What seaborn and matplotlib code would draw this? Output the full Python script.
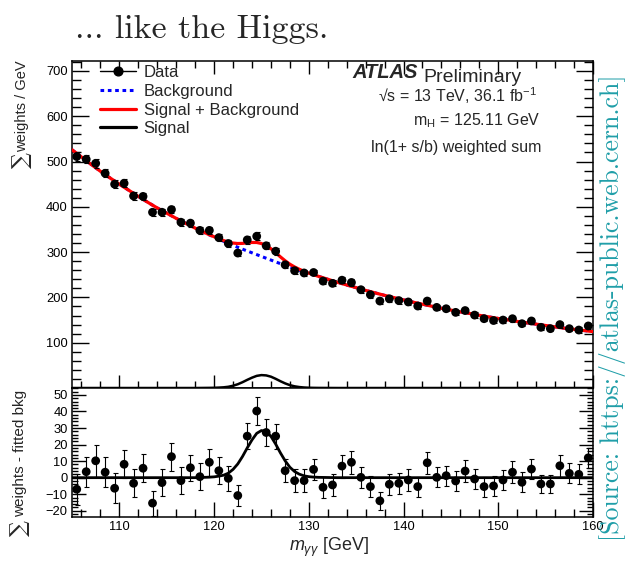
import numpy as np
import pandas as pd
import matplotlib
matplotlib.use("Agg")
import matplotlib.pyplot as plt
import seaborn as sns
from matplotlib.lines import Line2D
from matplotlib.ticker import MultipleLocator, FixedLocator

# ---------------------------------------------------------------- data
# 1 GeV bins from 105 to 160 GeV (bin centres)
mass = np.arange(105.5, 160.0, 1.0)

weighted_sum = [
    511, 505, 496, 474, 450, 452, 424, 423, 388, 388,
    394, 366, 364, 348, 348, 332, 319, 298, 327, 335,
    314, 302, 272, 259, 254, 255, 236, 231, 238, 233,
    217, 206, 192, 197, 193, 190, 181, 192, 178, 175,
    167, 171, 161, 153, 149, 150, 153, 142, 148, 134,
    131, 140, 131, 128, 137,
]

sum_err = [
    9.5, 9.0, 9.5, 9.0, 9.0, 8.5, 8.5, 8.5, 7.5, 8.0,
    8.5, 8.0, 8.0, 8.0, 8.0, 8.0, 7.5, 6.5, 8.0, 8.5,
    8.0, 7.5, 7.0, 7.0, 7.0, 6.5, 6.5, 6.5, 7.0, 7.0,
    6.5, 6.5, 5.5, 6.5, 6.5, 6.5, 6.0, 6.5, 6.0, 6.0,
    6.0, 6.5, 6.0, 6.0, 6.0, 6.0, 6.5, 6.0, 6.0, 5.5,
    5.5, 6.5, 6.0, 6.0, 6.0,
]

residual = [
    -7.0, 3.6, 10.2, 3.3, -6.4, 8.1, -3.4, 5.7, -15.4, -3.0,
    12.7, -1.8, 6.0, 0.6, 9.3, 4.2, -0.4, -10.8, 25.1, 40.3,
    27.3, 25.1, 4.2, -1.8, -1.8, 5.0, -5.8, -4.4, 7.0, 9.3,
    0.2, -5.4, -14.0, -4.0, -3.4, -1.4, -5.4, 9.0, 0.2, 1.2,
    -2.0, 4.0, -0.8, -5.4, -5.0, -1.4, 3.3, -2.8, 5.2, -3.8,
    -3.8, 7.2, 2.6, 2.0, 12.0,
]

# fitted curves (finer sampling around the peak)
fit_mass = [
    105, 106, 107, 108, 109, 110, 111, 112, 113, 114, 115, 116, 117, 118, 119,
    119.5, 120, 120.5, 121, 121.5, 122, 122.5, 123, 123.5, 124, 124.5, 125,
    125.5, 126, 126.5, 127, 127.5, 128, 128.5, 129, 129.5, 130, 130.5, 131,
    132, 133, 134, 135, 136, 137, 138, 139, 140, 141, 142, 143, 144, 145, 146,
    147, 148, 149, 150, 151, 152, 153, 154, 155, 156, 157, 158, 159, 160,
]

fit_bkg = [
    526, 510, 494, 478.5, 464, 450, 436.5, 423, 410, 397.5, 386, 374.5, 363.5, 353, 343,
    338, 333.5, 328.7, 324, 319.5, 315, 310.7, 306.5, 302.5, 298.5, 294.5, 290.5,
    286.5, 282.5, 278.5, 274.5, 270.7, 267, 263.5, 260, 256.5, 253, 249.7, 246.5,
    240, 233.5, 227.5, 221.5, 215.5, 210, 204.5, 199.5, 194.5, 189.5, 185, 180.5, 176, 172, 168,
    164.5, 160.5, 157, 153.5, 150.5, 147, 144, 141, 138, 135, 132, 129.5, 127, 124.5,
]

fit_sig = [
    0, 0, 0, 0, 0, 0, 0, 0, 0, 0, 0, 0, 0, 0, 0.2,
    0.3, 0.5, 0.9, 1.5, 2.7, 5.0, 8.3, 12.8, 18.0, 22.8, 26.8, 28.5,
    27.8, 25.0, 20.3, 15.0, 10.2, 6.3, 3.7, 2.1, 1.1, 0.6, 0.35, 0.2,
    0.1, 0, 0, 0, 0, 0, 0, 0, 0, 0, 0, 0, 0, 0, 0,
    0, 0, 0, 0, 0, 0, 0, 0, 0, 0, 0, 0, 0, 0,
]

x_ticks = [110, 120, 130, 140, 150, 160]
top_y_ticks = [100, 200, 300, 400, 500, 600, 700]
bot_y_ticks = [-20, -10, 0, 10, 20, 30, 40, 50]

points = pd.DataFrame({"mass": mass, "sum": weighted_sum, "err": sum_err, "res": residual})
curves = pd.DataFrame({"mass": fit_mass, "bkg": fit_bkg, "sig": fit_sig})
curves["sb"] = curves["bkg"] + curves["sig"]

# ---------------------------------------------------------------- style
sns.set_theme(style="ticks")
plt.rcParams["font.family"] = ["Liberation Sans", "DejaVu Sans"]
plt.rcParams["mathtext.fontset"] = "custom"
plt.rcParams["mathtext.rm"] = "Liberation Sans"
plt.rcParams["mathtext.it"] = "Liberation Sans:italic"
plt.rcParams["mathtext.bf"] = "Liberation Sans:bold"
plt.rcParams["axes.linewidth"] = 1.1
plt.rcParams["axes.edgecolor"] = "black"

BLUE = "#0000ff"
RED = "#ff0000"
dotted = (0, (1.2, 1.2))

fig = plt.figure(figsize=(6.25, 5.62), dpi=100)
ax_top = fig.add_axes([0.1152, 0.3096, 0.8336, 0.5819])
ax_bot = fig.add_axes([0.1152, 0.0800, 0.8336, 0.2296])

# ---------------------------------------------------------------- upper panel
sns.lineplot(data=curves, x="mass", y="bkg", ax=ax_top, color=BLUE, lw=2.2,
             linestyle=dotted, zorder=2)
sns.lineplot(data=curves, x="mass", y="sb", ax=ax_top, color=RED, lw=2.3, zorder=3)
sns.lineplot(data=curves, x="mass", y="sig", ax=ax_top, color="black", lw=1.8, zorder=3)
ax_top.errorbar(points["mass"], points["sum"], yerr=points["err"], fmt="none",
                ecolor="black", elinewidth=0.8, capsize=1.8, capthick=0.8, zorder=4)
sns.scatterplot(data=points, x="mass", y="sum", ax=ax_top, color="black", s=40,
                edgecolor="none", zorder=5)

ax_top.set_xlim(105, 160)
ax_top.set_ylim(0, 722)
ax_top.set_xlabel("")
ax_top.set_ylabel("")
ax_top.yaxis.set_major_locator(FixedLocator(top_y_ticks))
ax_top.yaxis.set_minor_locator(MultipleLocator(20))
ax_top.xaxis.set_major_locator(FixedLocator(x_ticks))
ax_top.xaxis.set_minor_locator(MultipleLocator(2))
ax_top.tick_params(which="both", direction="in", top=True, right=True,
                   labelbottom=False, colors="black", labelsize=9.3, width=1.0)
ax_top.tick_params(axis="y", which="major", length=12, pad=3)
ax_top.tick_params(axis="y", which="minor", length=6.5)
ax_top.tick_params(axis="x", which="major", length=9.5)
ax_top.tick_params(axis="x", which="minor", length=5)

handles = [
    Line2D([], [], color="black", marker="o", markersize=6.3, lw=1.0),
    Line2D([], [], color=BLUE, lw=2.2, linestyle=dotted),
    Line2D([], [], color=RED, lw=2.3),
    Line2D([], [], color="black", lw=2.3),
]
labels = ["Data", "Background", "Signal + Background", "Signal"]
ax_top.legend(handles, labels, loc="upper left", bbox_to_anchor=(0.053, 0.987),
              frameon=False, fontsize=12, handlelength=2.2, handletextpad=0.45,
              labelspacing=0.22, borderpad=0, borderaxespad=0)

atlas = ax_top.text(0.5374, 0.947, "ATLAS", transform=ax_top.transAxes,
                    fontsize=14.5, fontweight="bold", fontstyle="italic",
                    ha="left", va="baseline")
ax_top.annotate("Preliminary", xy=(1, 0), xycoords=atlas, xytext=(4, 0),
                textcoords="offset points", fontsize=14, ha="left", va="baseline")
ax_top.text(0.8925, 0.8755, "√s = 13 TeV, 36.1 fb$^{\\mathregular{-1}}$",
            transform=ax_top.transAxes, fontsize=11.5, ha="right", va="baseline")
ax_top.text(0.9002, 0.804, "m$_{\\mathregular{H}}$ = 125.11 GeV",
            transform=ax_top.transAxes, fontsize=11.5, ha="right", va="baseline")
ax_top.text(0.9002, 0.7226, "ln(1+ s/b) weighted sum",
            transform=ax_top.transAxes, fontsize=11.5, ha="right", va="baseline")

# ---------------------------------------------------------------- lower panel
ax_bot.errorbar(points["mass"], points["res"], yerr=points["err"], fmt="none",
                ecolor="black", elinewidth=0.8, capsize=1.8, capthick=0.8, zorder=4)
sns.lineplot(data=curves, x="mass", y="sig", ax=ax_bot, color="black", lw=2.0, zorder=3)
sns.scatterplot(data=points, x="mass", y="res", ax=ax_bot, color="black", s=40,
                edgecolor="none", zorder=5)

ax_bot.set_xlim(105, 160)
ax_bot.set_ylim(-23.8, 54.2)
ax_bot.set_xlabel("")
ax_bot.set_ylabel("")
ax_bot.xaxis.set_major_locator(FixedLocator(x_ticks))
ax_bot.xaxis.set_minor_locator(MultipleLocator(2))
ax_bot.yaxis.set_major_locator(FixedLocator(bot_y_ticks))
ax_bot.yaxis.set_minor_locator(MultipleLocator(2))
ax_bot.tick_params(which="both", direction="in", right=True, top=False,
                   colors="black", labelsize=9.3, width=1.0)
ax_bot.tick_params(axis="y", which="major", length=10, pad=3)
ax_bot.tick_params(axis="y", which="minor", length=4.5)
ax_bot.tick_params(axis="x", which="major", length=11, pad=3)
ax_bot.tick_params(axis="x", which="minor", length=5.5)

# ---------------------------------------------------------------- titles
fig.text(0.5905, 0.0255, "$m_{\\gamma\\gamma}$ [GeV]", fontsize=13,
         ha="right", va="center")

# y titles: text with a large summation sign below it
fig.text(0.035, 0.8932, "weights / GeV", rotation=90, fontsize=10.5,
         ha="center", va="top")
fig.text(0.035, 0.8932 - 92 / 562, "∑", rotation=90, fontsize=16,
         family=["DejaVu Serif"], ha="center", va="top")
fig.text(0.032, 0.306, "weights - fitted bkg", rotation=90, fontsize=11,
         ha="center", va="top")
fig.text(0.032, 0.306 - 130 / 562, "∑", rotation=90, fontsize=16,
         family=["DejaVu Serif"], ha="center", va="top")

fig.text(0.12, 0.932, "... like the Higgs.", family=["cmr10", "DejaVu Serif"],
         fontsize=24.5, ha="left", va="baseline")
fig.text(0.9795, 0.452, "[Source: https://atlas-public.web.cern.ch]",
         family=["cmr10", "DejaVu Serif"], color="#1f9ea8", fontsize=18.6,
         rotation=90, ha="center", va="center")

fig.savefig("out.png", dpi=100)
